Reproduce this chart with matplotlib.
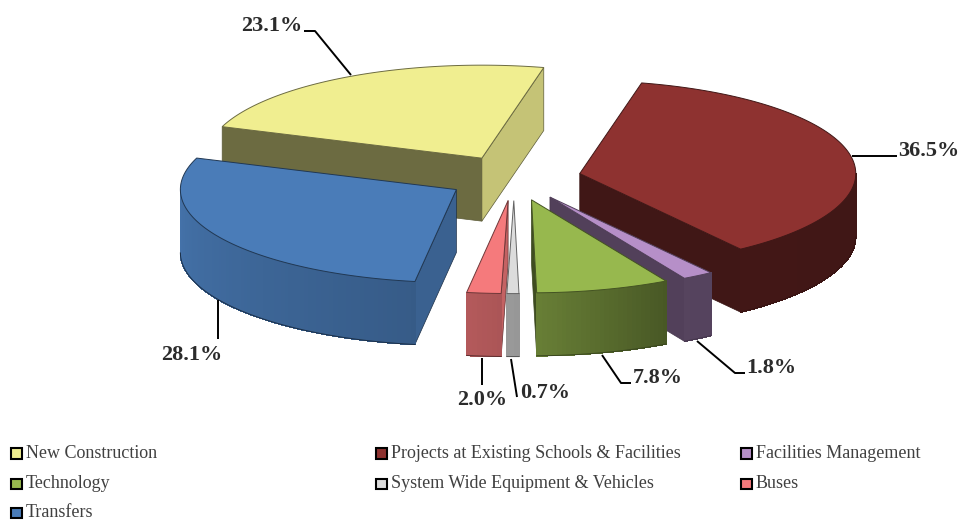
import numpy as np
import matplotlib.pyplot as plt
from matplotlib.colors import to_rgb
from matplotlib.patches import Polygon, Rectangle

categories = [
    "New Construction",
    "Projects at Existing Schools & Facilities",
    "Facilities Management",
    "Technology",
    "System Wide Equipment & Vehicles",
    "Buses",
    "Transfers",
]
shares = [23.1, 36.5, 1.8, 7.8, 0.7, 2.0, 28.1]
share_labels = ["23.1%", "36.5%", "1.8%", "7.8%", "0.7%", "2.0%", "28.1%"]

colors = ["#f0ee90", "#8e3230", "#b68fc8", "#97b84e", "#dcdcdc", "#f57a7c", "#4a7cb8"]
start_wall_shade = [0.45, 0.45, 0.45, 0.45, 0.7, 0.8, 0.78]
end_wall_shade = [0.82, 0.45, 0.45, 0.42, 0.7, 0.8, 0.78]

# projection of the tilted pie, in pixels
center_x = 514
center_y = 178
radius_x = 276
radius_y = 93
depth = 63
explode = 0.243
first_angle = -70.2


def project(theta, r=1.0):
    t = np.radians(theta)
    return r * radius_x * np.sin(t), -r * radius_y * np.cos(t)


def arc_shade(theta):
    return np.interp(theta % 360, [0, 100, 150, 178, 190, 270, 360],
                     [0.45, 0.45, 0.47, 0.68, 0.74, 0.92, 0.92])


def shaded(color, factor):
    return tuple(np.array(to_rgb(color)) * factor)


def draw_slice(ax, a0, a1, color, shade0, shade1):
    mid = (a0 + a1) / 2
    ex, ey = project(mid, explode)
    ox = center_x + ex
    oy = center_y + ey
    thetas = np.linspace(a0, a1, max(int(a1 - a0), 2) + 1)
    px, py = project(thetas)
    px = px + ox
    py = py + oy
    edge = shaded(color, 0.38)

    # flat cut faces, only those turned towards the viewer
    if np.cos(np.radians(a0 - 90)) < 0:
        pts = [(ox, oy), (px[0], py[0]), (px[0], py[0] + depth), (ox, oy + depth)]
        ax.add_patch(Polygon(pts, closed=True, facecolor=shaded(color, shade0),
                             edgecolor=edge, linewidth=0.5))
    if np.cos(np.radians(a1 + 90)) < 0:
        pts = [(ox, oy), (px[-1], py[-1]), (px[-1], py[-1] + depth), (ox, oy + depth)]
        ax.add_patch(Polygon(pts, closed=True, facecolor=shaded(color, shade1),
                             edgecolor=edge, linewidth=0.5))

    # outer wall, front half of the rim only
    for i in range(len(thetas) - 1):
        t = (thetas[i] + thetas[i + 1]) / 2
        if np.cos(np.radians(t)) > 0:
            continue
        c = shaded(color, arc_shade(t))
        pts = [(px[i], py[i]), (px[i + 1], py[i + 1]),
               (px[i + 1], py[i + 1] + depth), (px[i], py[i] + depth)]
        ax.add_patch(Polygon(pts, closed=True, facecolor=c, edgecolor=c, linewidth=0.5,
                             antialiased=False))

    front = np.cos(np.radians(thetas)) <= 0
    ax.plot(px[front], py[front] + depth, color=edge, linewidth=0.7)

    top = [(ox, oy)] + list(zip(px, py))
    ax.add_patch(Polygon(top, closed=True, facecolor=color,
                         edgecolor=shaded(color, 0.45), linewidth=0.7))


fig = plt.figure(figsize=(9.6, 5.21), dpi=100)
ax = fig.add_axes([0, 0, 1, 1])
ax.set_xlim(0, 960)
ax.set_ylim(521, 0)
ax.axis("off")

spans = np.array(shares) / sum(shares) * 360
starts = first_angle + np.concatenate([[0], np.cumsum(spans)[:-1]])
ends = starts + spans
mids = (starts + ends) / 2

# slices further back go first
for i in np.argsort(-np.cos(np.radians(mids))):
    draw_slice(ax, starts[i], ends[i], colors[i], start_wall_shade[i], end_wall_shade[i])

leaders = [
    [(351, 75), (315, 31), (304, 31)],
    [(852, 155.5), (897, 155.5)],
    [(697, 341), (735, 373), (745, 373)],
    [(602, 355), (621, 383), (631, 383)],
    [(511, 359), (517, 397)],
    [(482, 358), (482, 385)],
    [(218, 300), (218, 339)],
]
label_pos = [(272, 26), (929, 151), (771, 368), (658, 378), (545, 393), (482, 400), (192, 355)]

for pts, pos, text in zip(leaders, label_pos, share_labels):
    xs, ys = zip(*pts)
    ax.plot(xs, ys, color="black", linewidth=1.4, solid_capstyle="butt")
    ax.text(pos[0], pos[1], text, ha="center", va="center", family="Liberation Serif",
            fontweight="bold", fontsize=16, color="#2b2b2b")

legend_cols = [11, 376, 741]
legend_rows = [453.5, 484, 513]
for i, name in enumerate(categories):
    lx = legend_cols[i % 3]
    ly = legend_rows[i // 3]
    ax.add_patch(Rectangle((lx, ly - 5.5), 11, 10.5, facecolor=colors[i],
                           edgecolor="black", linewidth=1.5))
    ax.text(lx + 15, ly + 4, name, ha="left", va="baseline", family="Liberation Serif",
            fontsize=13, color="#404040")

plt.savefig("out.png", dpi=100)
